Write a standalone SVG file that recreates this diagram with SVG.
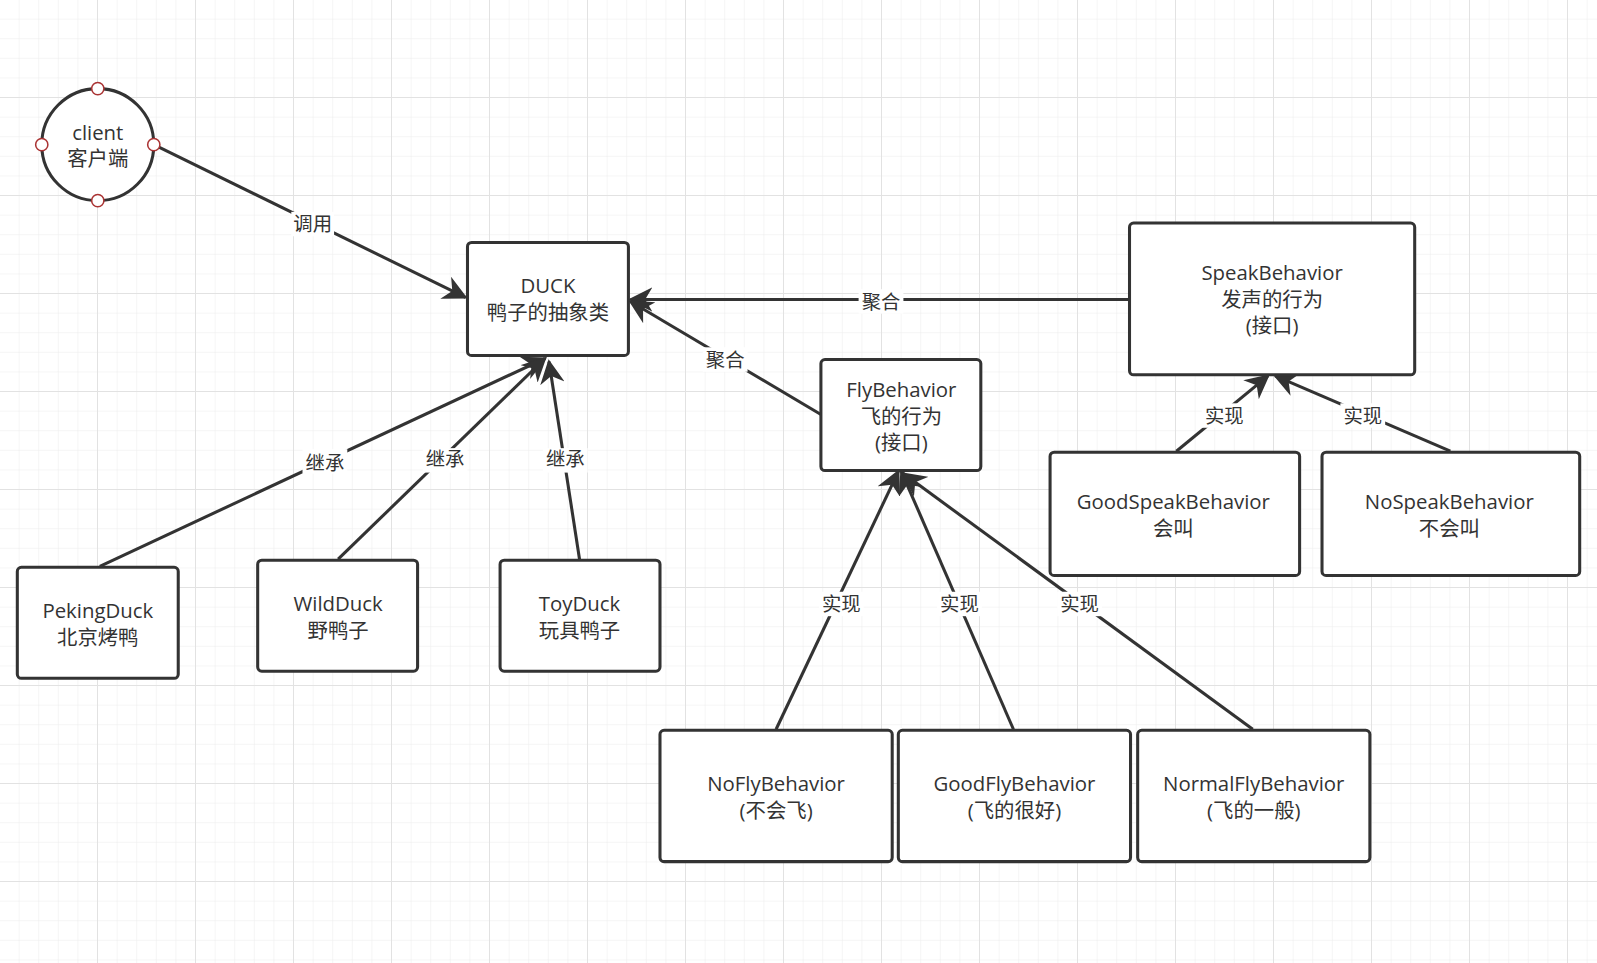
<svg xmlns="http://www.w3.org/2000/svg" width="1597" height="963" viewBox="0 0 1597 963">
<defs>
<pattern id="g" width="19.6" height="19.6" patternUnits="userSpaceOnUse"><path d="M19.6 0V19.6M0 19.6H19.6" fill="none" stroke="#ececec" stroke-width="1"/></pattern>
<pattern id="G" width="98" height="98" patternUnits="userSpaceOnUse"><rect width="98" height="98" fill="url(#g)"/><path d="M98 0V98M0 98H98" fill="none" stroke="#e2e2e2" stroke-width="2"/></pattern>
<marker id="b" viewBox="0 0 10 10" refX="9" refY="5" markerWidth="8" markerHeight="8" orient="auto"><path d="M0 0L10 5L0 10L3 5Z" fill="#333"/></marker>
</defs>
<style>
.n{fill:#fff;stroke:#333;stroke-width:3}
.t{font-family:"Open Sans","Noto Sans CJK SC",sans-serif;font-size:20px;fill:#333;text-anchor:middle}
.e{fill:none;stroke:#333;stroke-width:3;marker-end:url(#b)}
.l{font-family:"Open Sans","Noto Sans CJK SC",sans-serif;font-size:19px;fill:#333;text-anchor:middle}
.lb{fill:#fff}
.p{fill:#fff;stroke:#a33;stroke-width:1.5}
</style>
<rect width="1597" height="963" fill="#fff"/>
<rect width="1597" height="963" fill="url(#G)"/>
<g transform="scale(1.0185)">
<g id="edges">
<path class="e" d="M151 142L457 292"/>
<path class="e" d="M98 556L535 352"/>
<path class="e" d="M332 549L535 352"/>
<path class="e" d="M569 549L539 355"/>
<path class="e" d="M1109 294L619 294"/>
<path class="e" d="M806 407L619 296"/>
<path class="e" d="M762 716L882 463"/>
<path class="e" d="M995 716L885 463"/>
<path class="e" d="M1230 716L887 465"/>
<path class="e" d="M1155 443L1245 369"/>
<path class="e" d="M1424 443L1252 369"/>
<g class="lb">
<rect x="286" y="208" width="42" height="24"/><rect x="297" y="441" width="44" height="24"/>
<rect x="415" y="440" width="44" height="24"/><rect x="533" y="440" width="44" height="24"/>
<rect x="843" y="284" width="44" height="24"/><rect x="690" y="341" width="44" height="24"/>
<rect x="804" y="581" width="44" height="24"/><rect x="920" y="581" width="44" height="24"/>
<rect x="1038" y="581" width="44" height="24"/><rect x="1180" y="396" width="44" height="24"/>
<rect x="1316" y="396" width="44" height="24"/>
</g>
<text class="l" x="307" y="227">调用</text>
<text class="l" x="319" y="461">继承</text>
<text class="l" x="437" y="458">继承</text>
<text class="l" x="555" y="458">继承</text>
<text class="l" x="865" y="303">聚合</text>
<text class="l" x="712" y="360">聚合</text>
<text class="l" x="826" y="600">实现</text>
<text class="l" x="942" y="600">实现</text>
<text class="l" x="1060" y="600">实现</text>
<text class="l" x="1202" y="415">实现</text>
<text class="l" x="1338" y="415">实现</text>
</g>
<g id="client"><ellipse class="n" cx="96" cy="142" rx="55" ry="55"/>
<circle class="p" cx="96" cy="87" r="6"/><circle class="p" cx="96" cy="197" r="6"/><circle class="p" cx="41" cy="142" r="6"/><circle class="p" cx="151" cy="142" r="6"/>
<text class="t" x="96" y="137">client</text><text class="t" x="96" y="163">客户端</text></g>
<g id="duck"><rect class="n" x="459" y="238" width="158" height="111" rx="4"/><text class="t" x="538" y="288">DUCK</text><text class="t" x="538" y="314">鸭子的抽象类</text></g>
<g id="peking"><rect class="n" x="17" y="557" width="158" height="109" rx="4"/><text class="t" x="96" y="607">PekingDuck</text><text class="t" x="96" y="633">北京烤鸭</text></g>
<g id="wild"><rect class="n" x="253" y="550" width="157" height="109" rx="4"/><text class="t" x="332" y="600">WildDuck</text><text class="t" x="332" y="626">野鸭子</text></g>
<g id="toy"><rect class="n" x="491" y="550" width="157" height="109" rx="4"/><text class="t" x="569" y="600">ToyDuck</text><text class="t" x="569" y="626">玩具鸭子</text></g>
<g id="speak"><rect class="n" x="1109" y="219" width="280" height="149" rx="4"/><text class="t" x="1249" y="275">SpeakBehavior</text><text class="t" x="1249" y="301">发声的行为</text><text class="t" x="1249" y="327">(接口)</text></g>
<g id="fly"><rect class="n" x="806" y="353" width="157" height="109" rx="4"/><text class="t" x="885" y="390">FlyBehavior</text><text class="t" x="885" y="416">飞的行为</text><text class="t" x="885" y="442">(接口)</text></g>
<g id="goodspeak"><rect class="n" x="1031" y="444" width="245" height="121" rx="4"/><text class="t" x="1152" y="500">GoodSpeakBehavior</text><text class="t" x="1152" y="526">会叫</text></g>
<g id="nospeak"><rect class="n" x="1298" y="444" width="253" height="121" rx="4"/><text class="t" x="1423" y="500">NoSpeakBehavior</text><text class="t" x="1423" y="526">不会叫</text></g>
<g id="nofly"><rect class="n" x="648" y="717" width="228" height="129" rx="4"/><text class="t" x="762" y="777">NoFlyBehavior</text><text class="t" x="762" y="803">(不会飞)</text></g>
<g id="goodfly"><rect class="n" x="882" y="717" width="228" height="129" rx="4"/><text class="t" x="996" y="777">GoodFlyBehavior</text><text class="t" x="996" y="803">(飞的很好)</text></g>
<g id="normalfly"><rect class="n" x="1117" y="717" width="228" height="129" rx="4"/><text class="t" x="1231" y="777">NormalFlyBehavior</text><text class="t" x="1231" y="803">(飞的一般)</text></g>
</g>
</svg>
